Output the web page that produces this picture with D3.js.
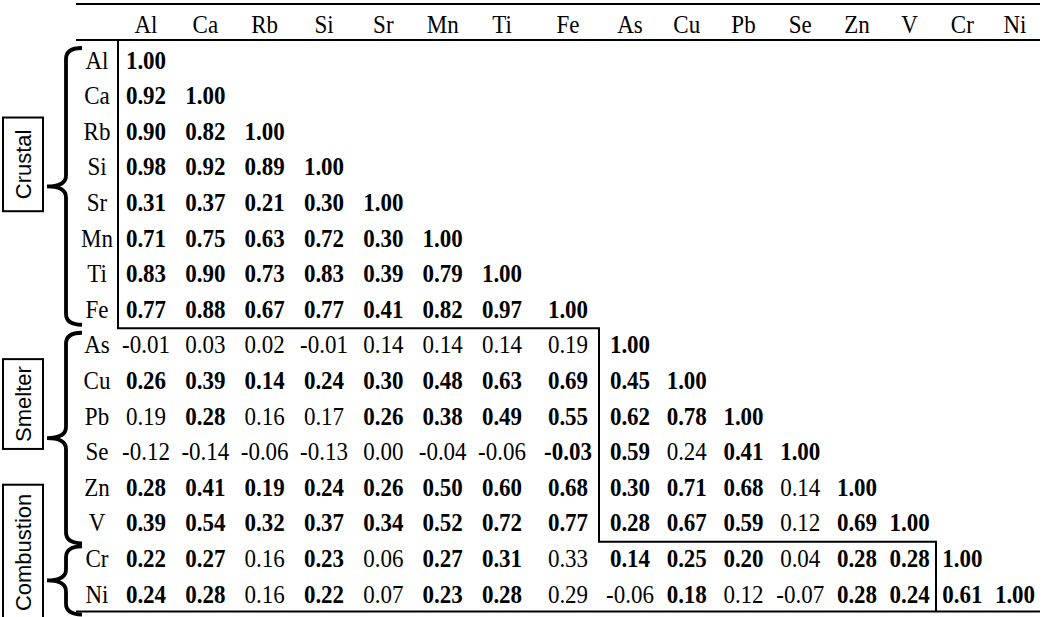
<!DOCTYPE html>
<html>
<head>
<meta charset="utf-8">
<script src="https://cdn.jsdelivr.net/npm/d3@7/dist/d3.min.js"></script>
<style>
body { margin: 0; background: #fff; }
svg text { fill: #000; }
</style>
</head>
<body>
<svg id="chart" width="1050" height="617"></svg>
<script>

// element order (rows and columns)
var elements = ["Al","Ca","Rb","Si","Sr","Mn","Ti","Fe","As","Cu","Pb","Se","Zn","V","Cr","Ni"];

// source groups
var groupNames = ["Crustal","Smelter","Combustion"];
var groupFirst = ["Al","As","Cr"];
var groupLast  = ["Fe","V","Ni"];

// lower triangle of the correlation matrix
var corr = [
	[1.00],
	[0.92,1.00],
	[0.90,0.82,1.00],
	[0.98,0.92,0.89,1.00],
	[0.31,0.37,0.21,0.30,1.00],
	[0.71,0.75,0.63,0.72,0.30,1.00],
	[0.83,0.90,0.73,0.83,0.39,0.79,1.00],
	[0.77,0.88,0.67,0.77,0.41,0.82,0.97,1.00],
	[-0.01,0.03,0.02,-0.01,0.14,0.14,0.14,0.19,1.00],
	[0.26,0.39,0.14,0.24,0.30,0.48,0.63,0.69,0.45,1.00],
	[0.19,0.28,0.16,0.17,0.26,0.38,0.49,0.55,0.62,0.78,1.00],
	[-0.12,-0.14,-0.06,-0.13,0.00,-0.04,-0.06,-0.03,0.59,0.24,0.41,1.00],
	[0.28,0.41,0.19,0.24,0.26,0.50,0.60,0.68,0.30,0.71,0.68,0.14,1.00],
	[0.39,0.54,0.32,0.37,0.34,0.52,0.72,0.77,0.28,0.67,0.59,0.12,0.69,1.00],
	[0.22,0.27,0.16,0.23,0.06,0.27,0.31,0.33,0.14,0.25,0.20,0.04,0.28,0.28,1.00],
	[0.24,0.28,0.16,0.22,0.07,0.23,0.28,0.29,-0.06,0.18,0.12,-0.07,0.28,0.24,0.61,1.00]
];

// 1 = significant (bold), 0 = not
var boldMask = [
	"1",
	"11",
	"111",
	"1111",
	"11111",
	"111111",
	"1111111",
	"11111111",
	"000000001",
	"1111111111",
	"01001111111",
	"000000011011",
	"1111111111101",
	"11111111111011",
	"110101101110111",
	"1101011001001111"
];

var svg = d3.select("#chart");

var serif = "'Liberation Serif', 'Times New Roman', serif";
var sans = "'Liberation Sans', Arial, sans-serif";
var fs = 23;
var stretch = "scale(1,1.07)";

// column centres (columns are not evenly wide in the table)
var x = d3.scaleLinear()
	.domain([0, 6, 7, 8, 12, 15])
	.range([146, 502, 568, 630, 857, 1015]);

var y = d3.scaleBand()
	.domain(elements)
	.range([42, 611.5]);

var bw = y.bandwidth();

//列の境界
function colEdge(i) {
	if (i === 0) return x(0) - 28;
	return (x(i - 1) + x(i)) / 2;
}

//罫線
var ruleTop = 4, ruleHead = 40, ruleBottom = 611.5;
var rules = svg.append("g").attr("stroke", "#000").attr("stroke-width", 2);
[ruleTop, ruleHead, ruleBottom].forEach(function(ry){
	rules.append("line")
		.attr("x1", 76).attr("x2", 1040)
		.attr("y1", ry).attr("y2", ry);
});

//見出し
svg.append("g").selectAll("text")
	.data(elements)
	.enter()
	.append("text")
	.attr("transform", function(d,i){ return "translate(" + x(i) + ",33) " + stretch; })
	.attr("text-anchor", "middle")
	.attr("font-family", serif)
	.attr("font-size", fs)
	.text(function(d){ return d; });

// row labels
svg.append("g").selectAll("text")
	.data(elements)
	.enter()
	.append("text")
	.attr("transform", function(d){ return "translate(97," + (y(d) + bw / 2) + ") " + stretch; })
	.attr("dy", "0.36em")
	.attr("text-anchor", "middle")
	.attr("font-family", serif)
	.attr("font-size", fs)
	.text(function(d){ return d; });

// cells
var cells = [];
corr.forEach(function(row, r){
	row.forEach(function(v, c){
		cells.push({ r: r, c: c, v: v, bold: boldMask[r][c] === "1" });
	});
});

svg.append("g").selectAll("text")
	.data(cells)
	.enter()
	.append("text")
	.attr("transform", function(d){
		return "translate(" + x(d.c) + "," + (y(elements[d.r]) + bw / 2) + ") " + stretch;
	})
	.attr("dy", "0.36em")
	.attr("text-anchor", "middle")
	.attr("font-family", serif)
	.attr("font-size", fs)
	.attr("font-weight", function(d){ return d.bold ? "bold" : "normal"; })
	.text(function(d){ return d3.format(".2f")(d.v).replace("−", "-"); });

// staircase around the source blocks
var stairs = [[colEdge(0), ruleHead]];
groupFirst.forEach(function(g, k){
	if (k === 0) return;
	var i = elements.indexOf(g);
	stairs.push([colEdge(k === 1 ? 0 : elements.indexOf(groupFirst[k-1])), y(g) + 1.5]);
	stairs.push([colEdge(i), y(g) + 1.5]);
});
stairs.push([colEdge(elements.indexOf(groupFirst[groupFirst.length-1])), ruleBottom]);

svg.append("path")
	.attr("d", d3.line()(stairs))
	.attr("fill", "none")
	.attr("stroke", "#000")
	.attr("stroke-width", 2);

// braces + group boxes
function bracePath(y0, y1) {
	var xh = 82, xs = 66, xt = 47, r = 11;
	var ym = (y0 + y1) / 2;
	return "M" + xh + "," + y0 +
		" Q" + xs + "," + y0 + " " + xs + "," + (y0 + r) +
		" L" + xs + "," + (ym - r) +
		" Q" + xs + "," + ym + " " + xt + "," + ym +
		" Q" + xs + "," + ym + " " + xs + "," + (ym + r) +
		" L" + xs + "," + (y1 - r) +
		" Q" + xs + "," + y1 + " " + xh + "," + y1;
}

var boxShift = [-22, -34, -28];
var boxPad = [24, 14, 18];
var braceEnd = [-2, 3, 3];

var brace = svg.append("g");

groupNames.forEach(function(name, k){
	var y0 = y(groupFirst[k]) + 6;
	var y1 = y(groupLast[k]) + bw + braceEnd[k];
	brace.append("path")
		.attr("d", bracePath(y0, y1))
		.attr("fill", "none")
		.attr("stroke", "#000")
		.attr("stroke-width", 3.8)
		.attr("stroke-linecap", "butt");

	var cy = (y0 + y1) / 2 + boxShift[k];
	var t = brace.append("text")
		.attr("transform", "translate(23," + cy + ") rotate(-90)")
		.attr("dy", "0.36em")
		.attr("text-anchor", "middle")
		.attr("font-family", sans)
		.attr("font-size", 22)
		.text(name);
	var len = t.node().getComputedTextLength() + boxPad[k];
	brace.insert("rect", "text")
		.attr("x", 3)
		.attr("y", cy - len / 2)
		.attr("width", 40)
		.attr("height", len)
		.attr("fill", "#fff")
		.attr("stroke", "#000")
		.attr("stroke-width", 2);
});

</script>
</body>
</html>
